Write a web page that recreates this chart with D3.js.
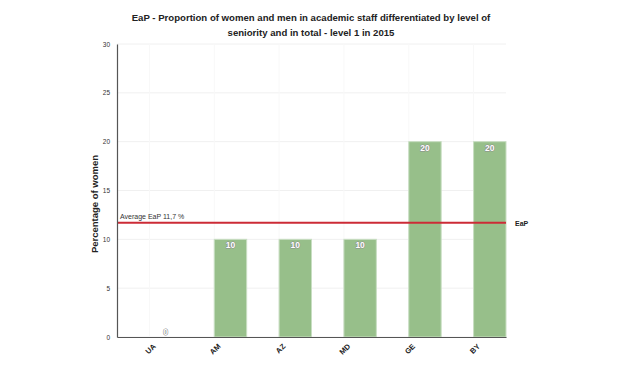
<html lang="en">
<head>
  <meta charset="UTF-8">
  <title>EaP chart</title>
  <style>
    body { margin: 0; background: #fff; font-family: "Liberation Sans", Arial, sans-serif; }
  </style>
</head>
<body>
  <div id="chart"></div>
  <script src="https://d3js.org/d3.v7.min.js"></script>
  <script>
    // chart data
    const countries = ["UA", "AM", "AZ", "MD", "GE", "BY"];
    const women = [0, 10, 10, 10, 20, 20];
    const yTicks = [0, 5, 10, 15, 20, 25, 30];
    const averageValue = 11.7;
    const averageText = "Average EaP  11,7 %";
    const averageName = "EaP";
    const titleLines = [
      "EaP - Proportion of women and men in academic staff differentiated by level of",
      "seniority and in total - level 1 in 2015"
    ];

    const w = 639, h = 373;
    const plotLeft = 117, plotRight = 506, plotTop = 44, plotBottom = 337;

    const svg = d3.select("#chart").append("svg")
      .attr("width", w)
      .attr("height", h);

    const x = d3.scaleBand().domain(countries).range([plotLeft, plotRight]);
    const y = d3.scaleLinear().domain([0, 30]).range([plotBottom, plotTop]);

    // title
    svg.selectAll(".title")
      .data(titleLines)
      .enter()
      .append("text")
      .attr("class", "title")
      .attr("x", 311)
      .attr("y", (d, i) => 21 + i * 14.5)
      .attr("text-anchor", "middle")
      .style("font-size", "9.6px")
      .style("font-weight", "bold")
      .attr("fill", "#222")
      .text(d => d);

    // horizontal grid
    svg.append("g")
      .selectAll("line")
      .data(yTicks)
      .enter()
      .append("line")
      .attr("x1", plotLeft)
      .attr("x2", plotRight)
      .attr("y1", d => y(d))
      .attr("y2", d => y(d))
      .attr("stroke", "#f0f0f0")
      .attr("stroke-width", 1);

    // faint vertical grid
    svg.append("g")
      .selectAll("line")
      .data(countries)
      .enter()
      .append("line")
      .attr("x1", d => x(d) + x.bandwidth() / 2)
      .attr("x2", d => x(d) + x.bandwidth() / 2)
      .attr("y1", plotTop)
      .attr("y2", plotBottom)
      .attr("stroke", "#f8f8f8");

    // bars sit in the right half of each band
    svg.append("g")
      .selectAll("rect")
      .data(countries)
      .enter()
      .append("rect")
      .attr("x", d => x(d) + x.bandwidth() / 2)
      .attr("y", (d, i) => y(women[i]))
      .attr("width", x.bandwidth() / 2)
      .attr("height", (d, i) => plotBottom - y(women[i]))
      .attr("fill", "#97bf8a")
      .attr("stroke", "#c8dec2")
      .attr("stroke-width", 1);

    // value labels, white with a grey outline
    svg.append("g")
      .selectAll("text")
      .data(countries)
      .enter()
      .append("text")
      .attr("x", d => x(d) + x.bandwidth() * 0.75)
      .attr("y", (d, i) => women[i] > 1 ? y(women[i]) + 9 : y(women[i]) - 2)
      .attr("text-anchor", "middle")
      .style("font-size", "8.5px")
      .style("font-weight", "bold")
      .style("paint-order", "stroke")
      .attr("fill", "#fff")
      .attr("stroke", "#8a8a8a")
      .attr("stroke-width", 1)
      .attr("stroke-linejoin", "round")
      .text((d, i) => women[i]);

    // average line
    svg.append("line")
      .attr("x1", plotLeft)
      .attr("x2", plotRight)
      .attr("y1", y(averageValue))
      .attr("y2", y(averageValue))
      .attr("stroke", "#cc2b36")
      .attr("stroke-width", 2);

    svg.append("text")
      .attr("x", plotLeft + 3)
      .attr("y", y(averageValue) - 4)
      .style("font-size", "7px")
      .attr("fill", "#333")
      .text(averageText);

    svg.append("text")
      .attr("x", plotRight + 9)
      .attr("y", y(averageValue) + 3)
      .style("font-size", "7px")
      .style("font-weight", "bold")
      .attr("fill", "#222")
      .text(averageName);

    // y axis
    const yAxis = d3.axisLeft(y).tickValues(yTicks).tickSize(0).tickPadding(7);
    const gy = svg.append("g")
      .attr("transform", "translate(" + plotLeft + ",0)")
      .call(yAxis);
    gy.select(".domain").attr("stroke", "#555").attr("stroke-width", 1.2);
    gy.selectAll("text")
      .style("font-size", "6.5px")
      .style("font-family", "Liberation Sans, Arial, sans-serif")
      .attr("fill", "#333");

    // x axis
    const xAxis = d3.axisBottom(x).tickSize(0).tickPadding(0);
    const gx = svg.append("g")
      .attr("transform", "translate(0," + plotBottom + ")")
      .call(xAxis);
    gx.select(".domain").attr("stroke", "#555").attr("stroke-width", 1.2);
    gx.selectAll("text")
      .style("font-size", "7.5px")
      .style("font-weight", "bold")
      .style("font-family", "Liberation Sans, Arial, sans-serif")
      .attr("fill", "#222")
      .attr("text-anchor", "end")
      .attr("dy", "0.35em")
      .attr("y", 0)
      .attr("transform", "translate(5,8) rotate(-45)");

    // y axis title
    svg.append("text")
      .attr("transform", "translate(98,204) rotate(-90)")
      .attr("text-anchor", "middle")
      .style("font-size", "9.5px")
      .style("font-weight", "bold")
      .attr("fill", "#222")
      .text("Percentage of women");
  </script>
</body>
</html>
